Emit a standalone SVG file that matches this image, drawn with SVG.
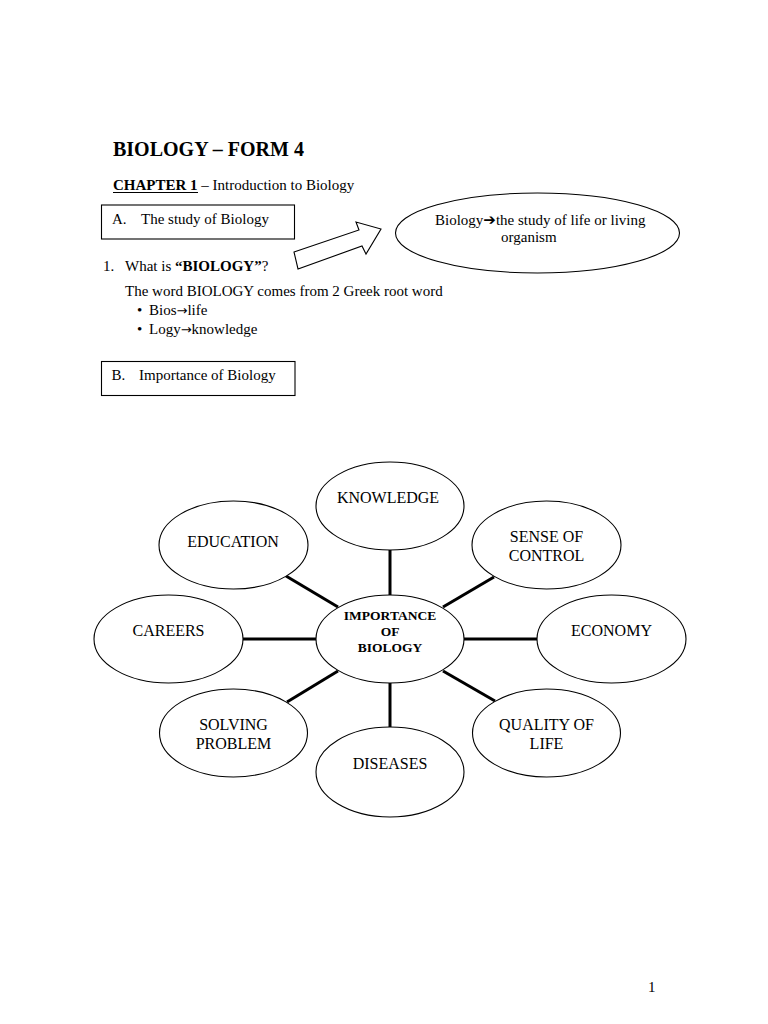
<svg xmlns="http://www.w3.org/2000/svg" width="768" height="1024" viewBox="0 0 768 1024">
<style>
  text { font-family: "Liberation Serif", "Times New Roman", serif; fill: #000; }
  .body { font-size: 15px; }
  .node { font-size: 16px; text-anchor: middle; }
  .hub { font-size: 13.5px; font-weight: bold; text-anchor: middle; }
  .shape { fill: #fff; stroke: #000; stroke-width: 1.1; }
  .conn { stroke: #000; stroke-width: 3; stroke-linecap: butt; }
  .arw { font-family: "DejaVu Sans", sans-serif; }
</style>
<rect x="0" y="0" width="768" height="1024" fill="#fff"/>

<g id="header">
  <text x="113" y="156" font-size="20" font-weight="bold">BIOLOGY – FORM 4</text>
  <text class="body" x="113" y="190"><tspan font-weight="bold">CHAPTER 1</tspan> – Introduction to Biology</text>
  <line x1="113" y1="192.5" x2="198" y2="192.5" stroke="#000" stroke-width="1.2"/>
</g>

<g id="box-a">
  <rect class="shape" x="101.5" y="205" width="193" height="34"/>
  <text class="body" x="112" y="224">A.</text>
  <text class="body" x="141" y="224">The study of Biology</text>
</g>

<g id="block-arrow">
  <polygon class="shape" points="294,252 359,230 356,222 381,229 366,254 362,246 298,269"/>
</g>

<g id="definition">
  <ellipse class="shape" cx="537.5" cy="233" rx="142" ry="40"/>
  <text class="body" x="435" y="225">Biology<tspan class="arw" font-size="15" font-weight="bold">➔</tspan>the study of life or living</text>
  <text class="body" x="501" y="242">organism</text>
</g>

<g id="question">
  <text class="body" x="103" y="271">1.</text>
  <text class="body" x="125" y="271">What is <tspan font-weight="bold">“BIOLOGY”</tspan>?</text>
  <text class="body" x="125" y="296">The word BIOLOGY comes from 2 Greek root word</text>
  <text class="body" x="137" y="315">•</text>
  <text class="body" x="149" y="315">Bios<tspan class="arw" font-size="13">→</tspan>life</text>
  <text class="body" x="137" y="334">•</text>
  <text class="body" x="149" y="334">Logy<tspan class="arw" font-size="13">→</tspan>knowledge</text>
</g>

<g id="box-b">
  <rect class="shape" x="101.5" y="361.5" width="193.5" height="34"/>
  <text class="body" x="111.5" y="380">B.</text>
  <text class="body" x="139" y="380">Importance of Biology</text>
</g>

<g id="connectors">
  <line class="conn" x1="390" y1="550" x2="390" y2="595"/>
  <line class="conn" x1="286" y1="576" x2="338" y2="607"/>
  <line class="conn" x1="494" y1="577" x2="443" y2="607"/>
  <line class="conn" x1="243" y1="639" x2="316" y2="639"/>
  <line class="conn" x1="464" y1="639" x2="537" y2="639"/>
  <line class="conn" x1="287" y1="702" x2="338" y2="671"/>
  <line class="conn" x1="443" y1="671" x2="495" y2="701"/>
  <line class="conn" x1="390" y1="683" x2="390" y2="727"/>
</g>

<g id="knowledge">
  <ellipse class="shape" cx="390" cy="506" rx="74" ry="44"/>
  <text class="node" x="388" y="503">KNOWLEDGE</text>
</g>
<g id="education">
  <ellipse class="shape" cx="233.5" cy="545" rx="74.5" ry="44"/>
  <text class="node" x="233" y="547">EDUCATION</text>
</g>
<g id="sense-of-control">
  <ellipse class="shape" cx="546.5" cy="545" rx="74.5" ry="44"/>
  <text class="node" x="546.5" y="542">SENSE OF</text>
  <text class="node" x="546.5" y="561">CONTROL</text>
</g>
<g id="careers">
  <ellipse class="shape" cx="168.5" cy="639" rx="74.5" ry="44"/>
  <text class="node" x="168.5" y="636">CAREERS</text>
</g>
<g id="importance">
  <ellipse class="shape" cx="390" cy="639" rx="74" ry="44"/>
  <text class="hub" x="390" y="620">IMPORTANCE</text>
  <text class="hub" x="390" y="636">OF</text>
  <text class="hub" x="390" y="652">BIOLOGY</text>
</g>
<g id="economy">
  <ellipse class="shape" cx="611.5" cy="639" rx="74.5" ry="44"/>
  <text class="node" x="611.5" y="636">ECONOMY</text>
</g>
<g id="solving-problem">
  <ellipse class="shape" cx="233.5" cy="733" rx="74" ry="44"/>
  <text class="node" x="233.5" y="730">SOLVING</text>
  <text class="node" x="233.5" y="749">PROBLEM</text>
</g>
<g id="quality-of-life">
  <ellipse class="shape" cx="546.5" cy="733" rx="74" ry="44"/>
  <text class="node" x="546.5" y="730">QUALITY OF</text>
  <text class="node" x="546.5" y="749">LIFE</text>
</g>
<g id="diseases">
  <ellipse class="shape" cx="390" cy="772" rx="74" ry="45"/>
  <text class="node" x="390" y="769">DISEASES</text>
</g>

<g id="page-number">
  <text class="body" x="648" y="992">1</text>
</g>
</svg>
